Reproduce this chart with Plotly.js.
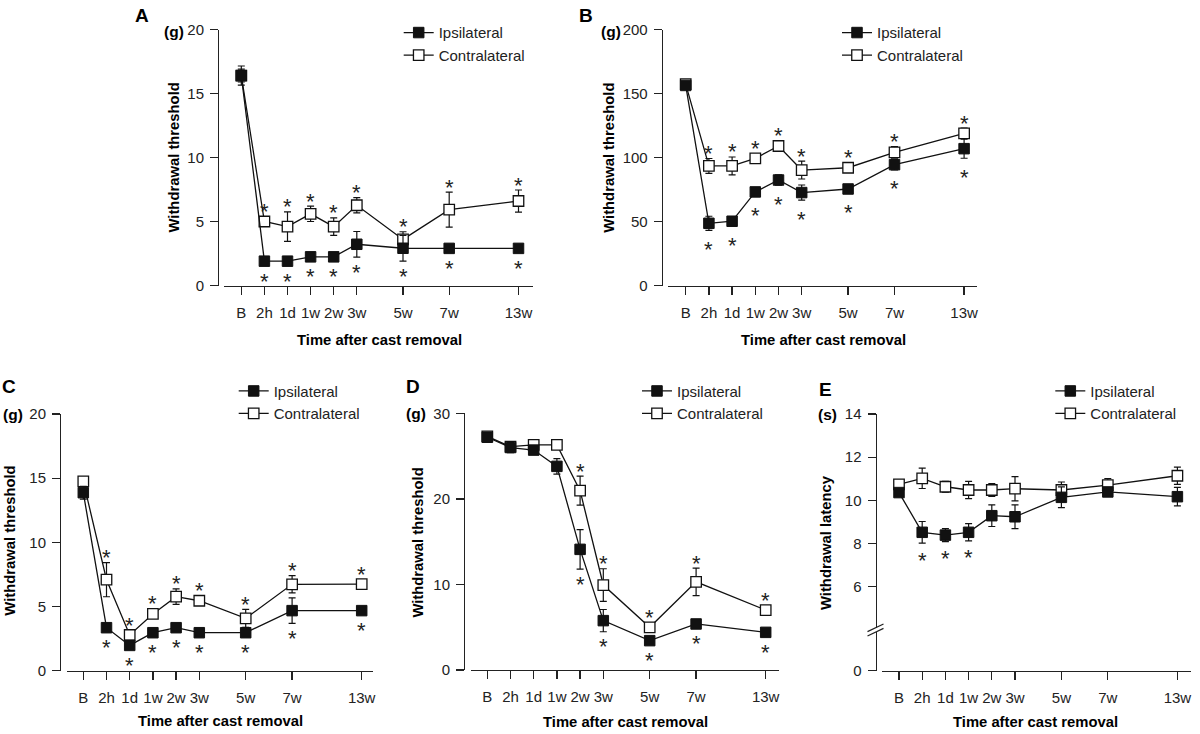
<!DOCTYPE html>
<html><head><meta charset="utf-8">
<script src="https://cdn.plot.ly/plotly-3.0.1.min.js"></script>
<style>html,body{margin:0;padding:0;background:#fff}#chart{width:1200px;height:734px}</style>
</head><body><div id="chart"></div>
<script>
// ---------- shared categories ----------
const timeLabels = ['B', '2h', '1d', '1w', '2w', '3w', '5w', '7w', '13w'];
const timePos = [0, 1, 2, 3, 4, 5, 7, 9, 12];
const seriesNames = ['Ipsilateral', 'Contralateral'];

// ---------- Panel A : withdrawal threshold (g) ----------
const aIpsi = [16.4, 1.9, 1.9, 2.24, 2.24, 3.22, 2.91, 2.9, 2.9];
const aIpsiErr = [0.5, 0.15, 0.15, 0.2, 0.2, 1.0, 1.0, 0.25, 0.25];
const aContra = [16.4, 5.0, 4.6, 5.6, 4.6, 6.27, 3.6, 5.93, 6.6];
const aContraErr = [0.75, 0.3, 1.15, 0.6, 0.68, 0.6, 0.6, 1.37, 0.86];
const aIpsiSig = [0, 1, 1, 1, 1, 1, 1, 1, 1];
const aContraSig = [0, 1, 1, 1, 1, 1, 1, 1, 1];
const aYTicks = [0, 5, 10, 15, 20];
const aYTickText = ['0', '5', '10', '15', '20'];

// ---------- Panel B : withdrawal threshold (g) ----------
const bIpsi = [156.3, 48.6, 50.2, 73.1, 82.4, 72.6, 75.4, 94.4, 106.9];
const bIpsiErr = [2, 5.5, 3, 2, 4, 5.9, 2, 4, 7.5];
const bContra = [157.3, 93.4, 93.4, 99.3, 109, 90.2, 92, 104, 118.9];
const bContraErr = [2, 5.8, 7, 2, 2, 7, 2, 4.5, 4];
const bIpsiSig = [0, 1, 1, 1, 1, 1, 1, 1, 1];
const bContraSig = [0, 1, 1, 1, 1, 1, 1, 1, 1];
const bYTicks = [0, 50, 100, 150, 200];
const bYTickText = ['0', '50', '100', '150', '200'];

// ---------- Panel C : withdrawal threshold (g) ----------
const cIpsi = [13.87, 3.35, 1.97, 2.96, 3.35, 2.96, 2.96, 4.68, 4.68];
const cIpsiErr = [0.5, 0.2, 0.2, 0.3, 0.2, 0.2, 0.3, 1.0, 0.2];
const cContra = [14.75, 7.09, 2.78, 4.42, 5.77, 5.45, 4.08, 6.73, 6.75];
const cContraErr = [0.3, 1.33, 0.3, 0.3, 0.6, 0.3, 0.7, 0.67, 0.3];
const cIpsiSig = [0, 1, 1, 1, 1, 1, 1, 1, 1];
const cContraSig = [0, 1, 1, 1, 1, 1, 1, 1, 1];
const cYTicks = [0, 5, 10, 15, 20];
const cYTickText = ['0', '5', '10', '15', '20'];

// ---------- Panel D : withdrawal threshold (g) ----------
const dIpsi = [27.2, 26.0, 25.7, 23.8, 14.1, 5.77, 3.43, 5.38, 4.4];
const dIpsiErr = [0.3, 0.6, 0.5, 0.9, 2.3, 1.3, 0.3, 0.4, 0.3];
const dContra = [27.3, 26.1, 26.3, 26.3, 20.96, 9.93, 4.99, 10.3, 7.0];
const dContraErr = [0.3, 0.3, 0.3, 0.3, 1.7, 1.9, 0.4, 1.6, 0.3];
const dIpsiSig = [0, 0, 0, 0, 1, 1, 1, 1, 1];
const dContraSig = [0, 0, 0, 0, 1, 1, 1, 1, 1];
const dYTicks = [0, 10, 20, 30];
const dYTickText = ['0', '10', '20', '30'];

// ---------- Panel E : withdrawal latency (s) ----------
const eIpsi = [10.36, 8.52, 8.39, 8.52, 9.29, 9.24, 10.14, 10.39, 10.17];
const eIpsiErr = [0.15, 0.5, 0.3, 0.4, 0.5, 0.55, 0.48, 0.2, 0.43];
const eContra = [10.74, 11.02, 10.63, 10.48, 10.48, 10.54, 10.48, 10.71, 11.14];
const eContraErr = [0.1, 0.47, 0.25, 0.4, 0.3, 0.56, 0.37, 0.3, 0.4];
const eIpsiSig = [0, 1, 1, 1, 0, 0, 0, 0, 0];
const eContraSig = [0, 0, 0, 0, 0, 0, 0, 0, 0];
const eYTicks = [0, 6, 8, 10, 12, 14];
const eYTickText = ['0', '6', '8', '10', '12', '14'];

// ---------- layout / styling ----------
const W = 1200, H = 734;
const FONT = '"Liberation Sans", Arial, sans-serif';
const INK = '#111';
const AXIS = '#222';

const panels = [
  {letter: 'A', unit: '(g)', yTitle: 'Withdrawal threshold', ipsi: aIpsi, ipsiErr: aIpsiErr, contra: aContra, contraErr: aContraErr,
   ipsiSig: aIpsiSig, contraSig: aContraSig, yTicks: aYTicks, yTickText: aYTickText, yRange: [0, 20], breakBase: null,
   g: {yLine: 218, xStart: 224, xEnd: 533, bPx: 241.3, unitPx: 23.1, yTop: 29.5, yBot: 285.5,
       letterPos: [142, 15], unitPos: [174, 31], yTitlePos: [173, 157.5], xTitlePos: [379, 340], legPos: [406.7, 33.3],
       gapIpsi: 10, gapContra: 10}},
  {letter: 'B', unit: '(g)', yTitle: 'Withdrawal threshold', ipsi: bIpsi, ipsiErr: bIpsiErr, contra: bContra, contraErr: bContraErr,
   ipsiSig: bIpsiSig, contraSig: bContraSig, yTicks: bYTicks, yTickText: bYTickText, yRange: [0, 200], breakBase: null,
   g: {yLine: 661.7, xStart: 668.3, xEnd: 976.7, bPx: 685.7, unitPx: 23.2, yTop: 29.5, yBot: 285.5,
       letterPos: [586, 15], unitPos: [611, 31], yTitlePos: [608.3, 157.5], xTitlePos: [823.5, 340], legPos: [845, 33.3],
       gapIpsi: 14, gapContra: 10}},
  {letter: 'C', unit: '(g)', yTitle: 'Withdrawal threshold', ipsi: cIpsi, ipsiErr: cIpsiErr, contra: cContra, contraErr: cContraErr,
   ipsiSig: cIpsiSig, contraSig: cContraSig, yTicks: cYTicks, yTickText: cYTickText, yRange: [0, 20], breakBase: null,
   g: {yLine: 60, xStart: 66.7, xEnd: 372.7, bPx: 83.3, unitPx: 23.2, yTop: 414, yBot: 670.7,
       letterPos: [9, 386], unitPos: [13, 414], yTitlePos: [10, 540.7], xTitlePos: [220.8, 720.7], legPos: [241.7, 391.7],
       gapIpsi: 10, gapContra: 10}},
  {letter: 'D', unit: '(g)', yTitle: 'Withdrawal threshold', ipsi: dIpsi, ipsiErr: dIpsiErr, contra: dContra, contraErr: dContraErr,
   ipsiSig: dIpsiSig, contraSig: dContraSig, yTicks: dYTicks, yTickText: dYTickText, yRange: [0, 30], breakBase: null,
   g: {yLine: 464, xStart: 470.7, xEnd: 779.3, bPx: 487.3, unitPx: 23.2, yTop: 413.3, yBot: 670,
       letterPos: [413, 386], unitPos: [416, 413], yTitlePos: [418.3, 542.3], xTitlePos: [625.8, 721.7], legPos: [645, 391.7],
       gapIpsi: 10, gapContra: 10}},
  {letter: 'E', unit: '(s)', yTitle: 'Withdrawal latency', ipsi: eIpsi, ipsiErr: eIpsiErr, contra: eContra, contraErr: eContraErr,
   ipsiSig: eIpsiSig, contraSig: eContraSig, yTicks: eYTicks, yTickText: eYTickText, yRange: [2.11, 14], breakBase: 2.11,
   g: {yLine: 875.5, xStart: 881.7, xEnd: 1190.7, bPx: 899, unitPx: 23.2, yTop: 414, yBot: 670.7,
       letterPos: [825, 389], unitPos: [827.5, 414], yTitlePos: [826.7, 542.3], xTitlePos: [1035.8, 721.7], legPos: [1058.3, 391.7],
       gapIpsi: 12, gapContra: 10}}
];

const px = v => v / W;
const py = v => 1 - v / H;

const traces = [];
const layout = {
  width: W, height: H,
  margin: {l: 0, r: 0, t: 0, b: 0, pad: 0},
  paper_bgcolor: '#fff', plot_bgcolor: 'rgba(0,0,0,0)',
  showlegend: true, hovermode: false,
  font: {family: FONT, color: AXIS},
  annotations: [], shapes: []
};

panels.forEach((p, i) => {
  const n = i === 0 ? '' : String(i + 1);
  const xa = 'x' + n, ya = 'y' + n, legKey = 'legend' + n;
  const g = p.g;
  const ySpanPx = g.yBot - g.yTop;
  const pxPerUnit = ySpanPx / (p.yRange[1] - p.yRange[0]);

  const errStyle = arr => ({type: 'data', array: arr, symmetric: true, visible: true, color: INK, thickness: 1.2, width: 3.5});

  traces.push({
    type: 'scatter', mode: 'lines+markers', name: seriesNames[1], x: timePos, y: p.contra,
    xaxis: xa, yaxis: ya, legend: legKey, legendrank: 2, cliponaxis: false,
    error_y: errStyle(p.contraErr),
    line: {color: INK, width: 1.3},
    marker: {symbol: 'square', size: 10.5, color: '#fff', line: {color: INK, width: 1.3}}
  });
  traces.push({
    type: 'scatter', mode: 'lines+markers', name: seriesNames[0], x: timePos, y: p.ipsi,
    xaxis: xa, yaxis: ya, legend: legKey, legendrank: 1, cliponaxis: false,
    error_y: errStyle(p.ipsiErr),
    line: {color: INK, width: 1.3},
    marker: {symbol: 'square', size: 10.5, color: INK, line: {color: INK, width: 1}}
  });

  const yTickVals = p.yTicks.map(v => (p.breakBase !== null && v === 0) ? p.breakBase : v);

  layout['xaxis' + n] = {
    domain: [px(g.xStart), px(g.xEnd)],
    range: [(g.xStart - g.bPx) / g.unitPx, (g.xEnd - g.bPx) / g.unitPx],
    anchor: ya, tickmode: 'array', tickvals: timePos, ticktext: timeLabels,
    showline: true, linecolor: AXIS, linewidth: 1.3,
    ticks: 'outside', ticklen: 8, tickwidth: 1.3, tickcolor: AXIS,
    showgrid: false, zeroline: false, fixedrange: true,
    tickfont: {family: FONT, size: 15, color: AXIS}, ticklabelstandoff: 5
  };
  layout['yaxis' + n] = {
    domain: [py(g.yBot), py(g.yTop)],
    range: p.yRange, anchor: 'free', position: px(g.yLine),
    tickmode: 'array', tickvals: yTickVals, ticktext: p.yTickText,
    showline: true, linecolor: AXIS, linewidth: 1.3,
    ticks: 'outside', ticklen: 8, tickwidth: 1.3, tickcolor: AXIS,
    showgrid: false, zeroline: false, fixedrange: true,
    tickfont: {family: FONT, size: 15, color: AXIS}, ticklabelstandoff: 3
  };
  layout[legKey] = {
    x: px(g.legPos[0] - 8), y: py(g.legPos[1] - 17), xanchor: 'left', yanchor: 'top',
    bgcolor: 'rgba(0,0,0,0)', borderwidth: 0, tracegroupgap: 0, itemwidth: 30,
    font: {family: FONT, size: 15, color: AXIS}, traceorder: 'normal'
  };

  const ann = layout.annotations;
  ann.push({xref: 'paper', yref: 'paper', x: px(g.letterPos[0]), y: py(g.letterPos[1]), text: '<b>' + p.letter + '</b>',
    showarrow: false, xanchor: 'center', yanchor: 'middle', font: {family: FONT, size: 19, color: '#000'}});
  ann.push({xref: 'paper', yref: 'paper', x: px(g.unitPos[0]), y: py(g.unitPos[1]), text: '<b>' + p.unit + '</b>',
    showarrow: false, xanchor: 'center', yanchor: 'middle', font: {family: FONT, size: 15.5, color: '#000'}});
  ann.push({xref: 'paper', yref: 'paper', x: px(g.yTitlePos[0]), y: py(g.yTitlePos[1]), text: '<b>' + p.yTitle + '</b>',
    textangle: -90, showarrow: false, xanchor: 'center', yanchor: 'middle', font: {family: FONT, size: 14.8, color: '#000'}});
  ann.push({xref: 'paper', yref: 'paper', x: px(g.xTitlePos[0]), y: py(g.xTitlePos[1]), text: '<b>Time after cast removal</b>',
    showarrow: false, xanchor: 'center', yanchor: 'middle', font: {family: FONT, size: 14.8, color: '#000'}});

  // significance asterisks: contralateral above, ipsilateral below
  const glyphCorr = 5;
  const addStars = (vals, errs, sig, dir, gap) => {
    vals.forEach((v, k) => {
      if (!sig[k]) return;
      const off = Math.max(errs[k] * pxPerUnit, 5) + gap;
      ann.push({xref: xa, yref: ya, x: timePos[k], y: v, text: '*', showarrow: false,
        xanchor: 'center', yanchor: 'middle', yshift: dir * off - glyphCorr,
        font: {family: FONT, size: 22, color: '#222'}});
    });
  };
  addStars(p.contra, p.contraErr, p.contraSig, 1, g.gapContra);
  addStars(p.ipsi, p.ipsiErr, p.ipsiSig, -1, g.gapIpsi);

  // axis break marks for panel E
  if (p.breakBase !== null) {
    const bx = g.yLine, by = 630;
    layout.shapes.push({type: 'rect', xref: 'paper', yref: 'paper', x0: px(bx - 3), x1: px(bx + 3), y0: py(by + 2), y1: py(by - 2),
      fillcolor: '#fff', line: {width: 0}, layer: 'above'});
    [-2.2, 2.2].forEach(d => {
      layout.shapes.push({type: 'line', xref: 'paper', yref: 'paper', x0: px(bx - 8), y0: py(by + d + 3.8), x1: px(bx + 8), y1: py(by + d - 3.8),
        line: {color: AXIS, width: 1.2}, layer: 'above'});
    });
  }
});

Plotly.newPlot('chart', traces, layout, {staticPlot: true, displayModeBar: false});
</script>
</body></html>
